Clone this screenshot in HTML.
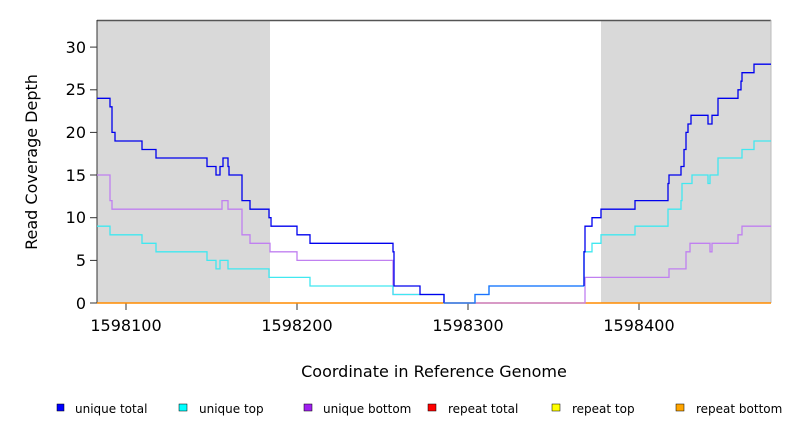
<!DOCTYPE html><html><head><style>body{margin:0;background:#fff;}svg{font-family:"DejaVu Sans","Liberation Sans",sans-serif;}</style></head><body>
<svg width="792" height="432" viewBox="0 0 792 432" xmlns="http://www.w3.org/2000/svg">
<rect x="97" y="20" width="173" height="283" fill="#d9d9d9"/>
<rect x="601" y="20" width="170" height="283" fill="#d9d9d9"/>
<line x1="97" y1="20.5" x2="771" y2="20.5" stroke="#555" stroke-width="1.5"/>
<line x1="97" y1="20" x2="97" y2="303" stroke="#333"/>
<line x1="771" y1="20" x2="771" y2="303" stroke="#bbb"/>
<g stroke="#333" stroke-width="1">
<line x1="90" y1="303" x2="97" y2="303"/><line x1="90" y1="260.4" x2="97" y2="260.4"/><line x1="90" y1="217.7" x2="97" y2="217.7"/><line x1="90" y1="175" x2="97" y2="175"/><line x1="90" y1="132.4" x2="97" y2="132.4"/><line x1="90" y1="89.8" x2="97" y2="89.8"/><line x1="90" y1="47.1" x2="97" y2="47.1"/>
<line x1="126" y1="303" x2="126" y2="310"/><line x1="297" y1="303" x2="297" y2="310"/><line x1="468" y1="303" x2="468" y2="310"/><line x1="639" y1="303" x2="639" y2="310"/>
</g>
<g font-size="16" fill="#000" text-anchor="end">
<text x="86" y="309">0</text><text x="86" y="266">5</text><text x="86" y="223">10</text><text x="86" y="181">15</text><text x="86" y="138">20</text><text x="86" y="95">25</text><text x="86" y="53">30</text>
</g>
<g font-size="16" text-anchor="middle">
<text x="126" y="331">1598100</text><text x="297" y="331">1598200</text><text x="468" y="331">1598300</text><text x="639" y="331">1598400</text>
<text x="434" y="377">Coordinate in Reference Genome</text>
<text transform="translate(37,162) rotate(-90)">Read Coverage Depth</text>
</g>
<line x1="97" y1="303" x2="771" y2="303" stroke="#ff8c00" stroke-width="1.5"/>
<g fill="none" stroke-width="1.3">
<polyline stroke="#c080f0" points="97,175 110,175 110,200.6 112,200.6 112,209.2 222,209.2 222,200.6 228,200.6 228,209.2 242,209.2 242,234.8 250,234.8 250,243.3 270,243.3 270,251.8 297,251.8 297,260.4 393,260.4 393,294.5 444,294.5 444,303 585,303 585,277.4 669,277.4 669,268.9 686,268.9 686,251.8 690,251.8 690,243.3 710,243.3 710,251.8 712,251.8 712,243.3 738,243.3 738,234.8 742,234.8 742,226.2 771,226.2"/>
<polyline stroke="#40e8f0" points="97,226.2 110,226.2 110,234.8 142,234.8 142,243.3 156,243.3 156,251.8 207,251.8 207,260.4 216,260.4 216,268.9 220,268.9 220,260.4 228,260.4 228,268.9 269,268.9 269,277.4 310,277.4 310,286 393,286 393,294.5 420,294.5 444,294.5 444,303 475,303 475,294.5 489,294.5 489,286 584,286 584,251.8 592,251.8 592,243.3 601,243.3 601,234.8 635,234.8 635,226.2 668,226.2 668,209.2 681,209.2 681,200.6 682,200.6 682,183.5 692,183.5 692,175 708,175 708,183.5 710,183.5 710,175 718,175 718,158 742,158 742,149.5 754,149.5 754,141 771,141"/>
<polyline stroke="#0000ee" points="97,98.3 110,98.3 110,106.8 112,106.8 112,132.4 115,132.4 115,141 142,141 142,149.5 156,149.5 156,158 207,158 207,166.5 216,166.5 216,175 220,175 220,166.5 223,166.5 223,158 228,158 228,166.5 229,166.5 229,175 242,175 242,200.6 250,200.6 250,209.2 269,209.2 269,217.7 271,217.7 271,226.2 297,226.2 297,234.8 310,234.8 310,243.3 393,243.3 393,251.8 394,251.8 394,286 420,286 420,294.5 444,294.5 444,303"/>
<polyline stroke="#1e6fff" points="444,303 475,303 475,294.5 489,294.5 489,286 584,286"/>
<polyline stroke="#0000ee" points="584,286 584,251.8 585,251.8 585,226.2 592,226.2 592,217.7 601,217.7 601,209.2 635,209.2 635,200.6 668,200.6 668,183.5 669,183.5 669,175 681,175 681,166.5 684,166.5 684,149.5 686,149.5 686,132.4 688,132.4 688,124 691,124 691,115.3 708,115.3 708,124 712,124 712,115.3 718,115.3 718,98.3 738,98.3 738,89.8 741,89.8 741,81.2 742,81.2 742,72.7 754,72.7 754,64.2 771,64.2"/>
</g>
<g font-size="12" fill="#000">
<rect x="57" y="404" width="7" height="7" fill="#0000ff" stroke="#000" stroke-width="0.5"/><text x="75" y="413">unique total</text>
<rect x="179" y="404" width="8" height="7" fill="#00ffff" stroke="#000" stroke-width="0.5"/><text x="199" y="413">unique top</text>
<rect x="304" y="404" width="8" height="7" fill="#a020f0" stroke="#000" stroke-width="0.5"/><text x="323" y="413">unique bottom</text>
<rect x="428" y="404" width="8" height="7" fill="#ff0000" stroke="#000" stroke-width="0.5"/><text x="448" y="413">repeat total</text>
<rect x="552" y="404" width="8" height="7" fill="#ffff00" stroke="#000" stroke-width="0.5"/><text x="572" y="413">repeat top</text>
<rect x="676" y="404" width="8" height="7" fill="#ffa500" stroke="#000" stroke-width="0.5"/><text x="696" y="413">repeat bottom</text>
</g>
</svg></body></html>
